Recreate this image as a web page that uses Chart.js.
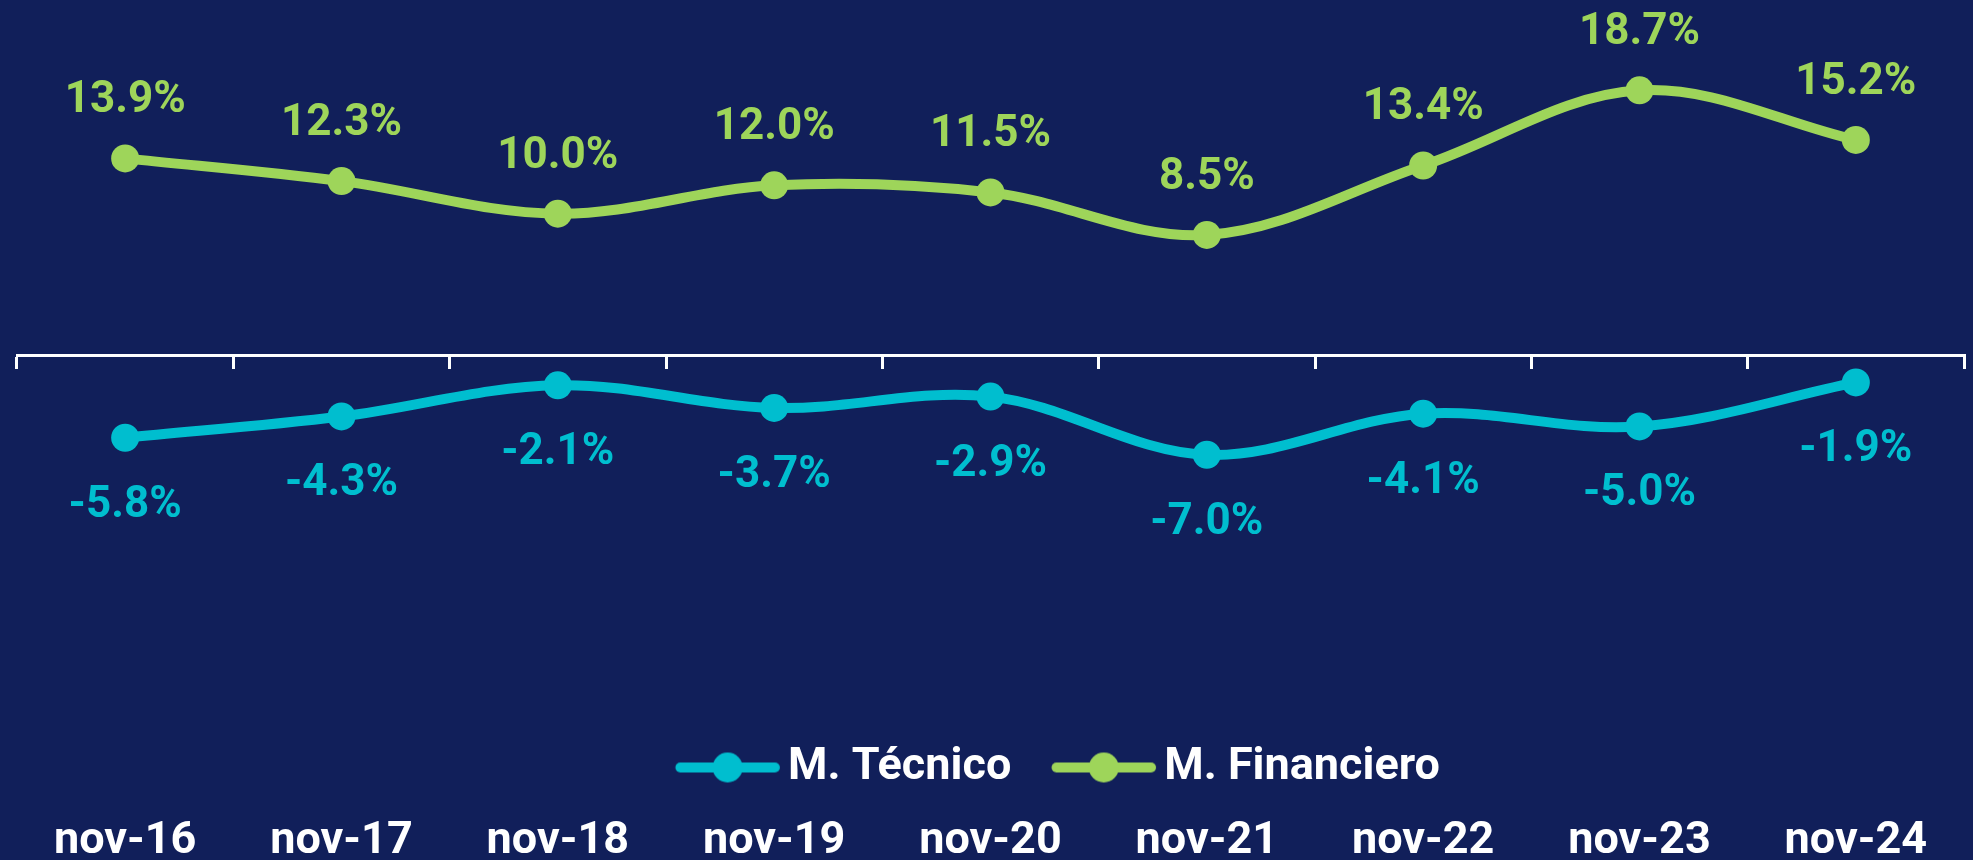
<!DOCTYPE html>
<html>
<head>
<meta charset="utf-8">
<script src="https://cdn.jsdelivr.net/npm/chart.js@4.4.1/dist/chart.umd.min.js"></script>
<style>
  html, body { margin: 0; padding: 0; background: #111f5a; }
  #wrap { width: 1973px; height: 860px; position: relative; }
</style>
</head>
<body>
<div id="wrap"><canvas id="margenChart"></canvas></div>
<script>
const labels = ['nov-16', 'nov-17', 'nov-18', 'nov-19', 'nov-20', 'nov-21', 'nov-22', 'nov-23', 'nov-24'];
const tecnico = [-5.8, -4.3, -2.1, -3.7, -2.9, -7.0, -4.1, -5.0, -1.9];
const financiero = [13.9, 12.3, 10.0, 12.0, 11.5, 8.5, 13.4, 18.7, 15.2];

const CYAN = 'rgb(0,190,207)';
const GREEN = 'rgb(158,213,90)';
const FONT = 'Roboto';

// icono de leyenda: linea con punto al medio
function legendIcon(color) {
    const c = document.createElement('canvas');
    c.width = 128;
    c.height = 32;
    const g = c.getContext('2d');
    g.strokeStyle = color;
    g.lineWidth = 10;
    g.lineCap = 'round';
    g.beginPath();
    g.moveTo(26.5, 16);
    g.lineTo(121, 16);
    g.stroke();
    g.fillStyle = color;
    g.beginPath();
    g.arc(73.75, 16, 15, 0, Math.PI * 2);
    g.fill();
    return c;
}

const valueLabels = {
    id: 'valueLabels',
    afterDatasetsDraw(chart) {
        const ctx = chart.ctx;
        ctx.save();
        ctx.font = 'bold 44px ' + FONT;
        ctx.textAlign = 'center';
        ctx.textBaseline = 'alphabetic';
        chart.data.datasets.forEach((ds, i) => {
            const meta = chart.getDatasetMeta(i);
            ctx.fillStyle = ds.borderColor;
            meta.data.forEach((pt, j) => {
                const dy = ds.labelBelow ? 79 : -46;
                ctx.fillText(ds.data[j].toFixed(1) + '%', pt.x, pt.y + dy);
            });
        });
        ctx.restore();
    }
};

const legendShift = {
    id: 'legendShift',
    afterLayout(chart) {
        chart.legend.left += 129;
    }
};

new Chart(document.getElementById('margenChart'), {
    type: 'line',
    data: {
        labels: labels,
        datasets: [
            {
                label: 'M. Técnico',
                data: tecnico,
                borderColor: CYAN,
                backgroundColor: CYAN,
                borderWidth: 10,
                pointRadius: 14,
                pointBorderWidth: 0,
                tension: 0.35,
                labelBelow: true
            },
            {
                label: 'M. Financiero',
                data: financiero,
                borderColor: GREEN,
                backgroundColor: GREEN,
                borderWidth: 10,
                pointRadius: 14,
                pointBorderWidth: 0,
                tension: 0.35,
                labelBelow: false
            }
        ]
    },
    options: {
        responsive: true,
        maintainAspectRatio: false,
        animation: false,
        layout: { autoPadding: false, padding: { left: 17, right: 9, top: 1, bottom: -4 } },
        scales: {
            x: {
                offset: true,
                weight: 2000,
                grid: { display: false, offset: true, drawTicks: true, tickLength: 19 },
                border: { display: false },
                ticks: {
                    color: '#ffffff',
                    font: { family: FONT, size: 45, weight: 'bold', lineHeight: 1 },
                    padding: 0,
                    maxRotation: 0,
                    autoSkip: false
                }
            },
            x2: {
                type: 'category',
                position: { y: 0 },
                offset: true,
                grid: {
                    display: true,
                    offset: true,
                    drawOnChartArea: false,
                    drawTicks: true,
                    tickLength: 12,
                    color: '#ffffff',
                    lineWidth: 3
                },
                border: { display: true, color: '#ffffff', width: 3 },
                ticks: { display: false }
            },
            y: {
                display: false,
                min: -25,
                max: 25
            }
        },
        plugins: {
            tooltip: { enabled: false },
            legend: {
                position: 'bottom',
                labels: {
                    color: '#ffffff',
                    font: { family: FONT, size: 45, weight: 'bold' },
                    usePointStyle: true,
                    pointStyleWidth: 95.5,
                    padding: 35,
                    generateLabels(chart) {
                        const items = Chart.defaults.plugins.legend.labels.generateLabels(chart);
                        return items.map(item => {
                            item.pointStyle = legendIcon(chart.data.datasets[item.datasetIndex].borderColor);
                            return item;
                        });
                    }
                }
            }
        }
    },
    plugins: [valueLabels, legendShift]
});
</script>
</body>
</html>
